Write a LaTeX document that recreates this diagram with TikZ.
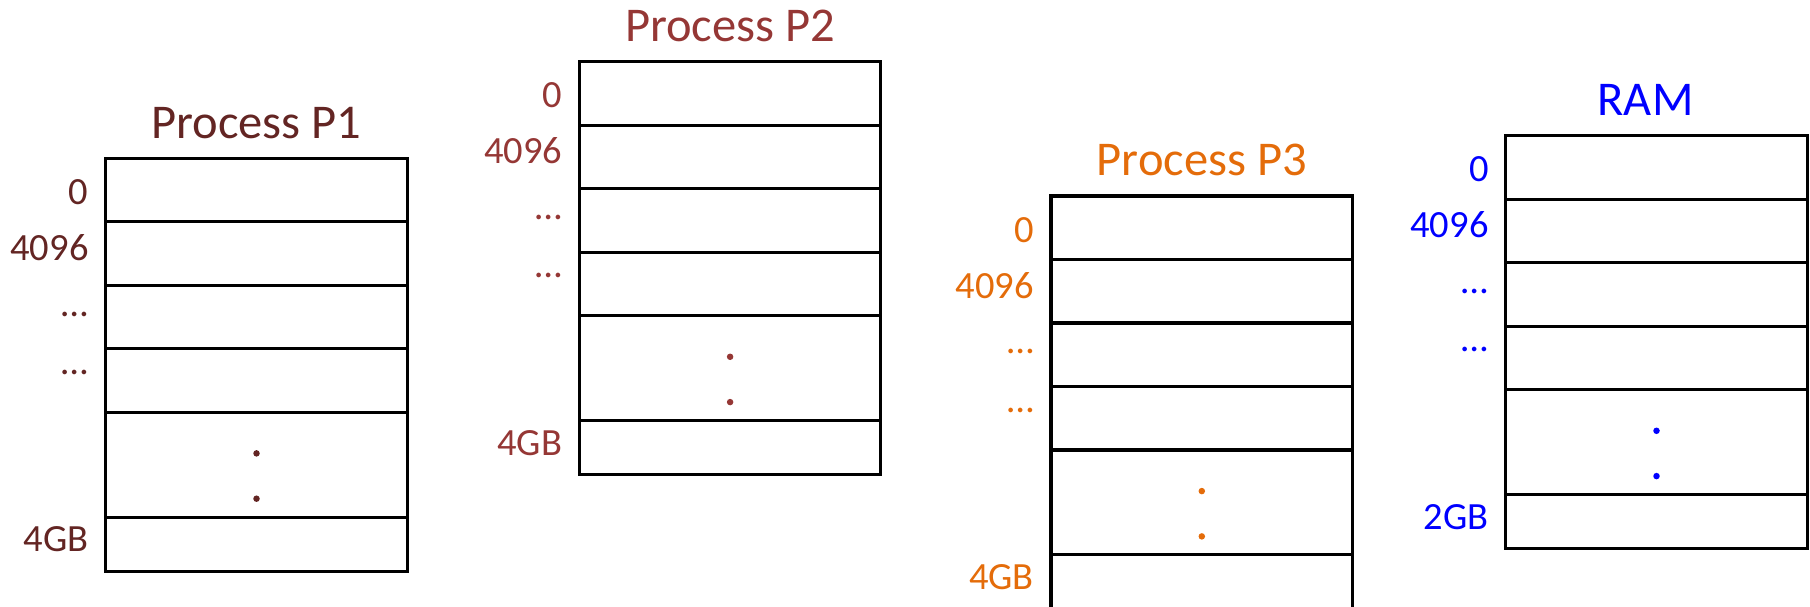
\documentclass[tikz,border=0pt]{standalone}
\usepackage{fontspec}
\setmainfont{Carlito}
\usetikzlibrary{positioning}

\definecolor{pone}{HTML}{632523}
\definecolor{ptwo}{HTML}{953735}
\definecolor{pthree}{HTML}{E46C0A}
\definecolor{ramblue}{HTML}{0000FF}

\begin{document}
\begin{tikzpicture}[
    x=1pt, y=1pt,
    % --- Styles ---
    cell/.style={
        rectangle,
        draw=black,
        line width=3.1pt,
        minimum width=301.6pt,
        minimum height=63.5pt,
        inner sep=0pt,
        outer sep=0pt
    },
    bigcell/.style={cell, minimum height=104.8pt},
    lastcell/.style={cell, minimum height=54.3pt},
    head/.style={
        inner sep=0pt,
        font=\fontsize{48.5}{56}\selectfont
    },
    addr/.style={
        inner sep=0pt,
        font=\fontsize{38.5}{44}\selectfont
    },
    dot/.style={circle, inner sep=0pt, minimum size=6.5pt}
]
\useasboundingbox (0,0) rectangle (1810,607);

% --- Process P1 ---
\node[cell, anchor=north west] (p1a) at (105.7,448.7) {};
\node[cell, below=0pt of p1a] (p1b) {};
\node[cell, below=0pt of p1b] (p1c) {};
\node[cell, below=0pt of p1c] (p1d) {};
\node[bigcell, below=0pt of p1d] (p1e) {};
\node[lastcell, below=0pt of p1e] (p1f) {};
\node[head, text=pone, above=20pt of p1a, anchor=base] (p1t) {Process P1};
\node[addr, text=pone, left=17pt of p1a, yshift=-2pt] (p1l0) {0};
\node[addr, text=pone, left=17pt of p1b, yshift=6pt] (p1l1) {4096};
\node[addr, text=pone, left=17pt of p1c, yshift=3pt] (p1l2) {\dots};
\node[addr, text=pone, left=17pt of p1d, yshift=8pt] (p1l3) {\dots};
\node[addr, text=pone, left=17pt of p1f, yshift=5pt] (p1l4) {4GB};
\node[dot, fill=pone, yshift=11.3pt] (p1d1) at (p1e) {};
\node[dot, fill=pone, yshift=-34pt] (p1d2) at (p1e) {};

% --- Process P2 ---
\node[cell, anchor=north west] (p2a) at (579.3,545.3) {};
\node[cell, below=0pt of p2a] (p2b) {};
\node[cell, below=0pt of p2b] (p2c) {};
\node[cell, below=0pt of p2c] (p2d) {};
\node[bigcell, below=0pt of p2d] (p2e) {};
\node[lastcell, below=0pt of p2e] (p2f) {};
\node[head, text=ptwo, above=20pt of p2a, anchor=base] (p2t) {Process P2};
\node[addr, text=ptwo, left=17pt of p2a, yshift=-2pt] (p2l0) {0};
\node[addr, text=ptwo, left=17pt of p2b, yshift=6pt] (p2l1) {4096};
\node[addr, text=ptwo, left=17pt of p2c, yshift=3pt] (p2l2) {\dots};
\node[addr, text=ptwo, left=17pt of p2d, yshift=8pt] (p2l3) {\dots};
\node[addr, text=ptwo, left=17pt of p2f, yshift=5pt] (p2l4) {4GB};
\node[dot, fill=ptwo, yshift=11.3pt] (p2d1) at (p2e) {};
\node[dot, fill=ptwo, yshift=-34pt] (p2d2) at (p2e) {};

% --- Process P3 ---
\node[cell, anchor=north west] (p3a) at (1051,411) {};
\node[cell, below=0pt of p3a] (p3b) {};
\node[cell, below=0pt of p3b] (p3c) {};
\node[cell, below=0pt of p3c] (p3d) {};
\node[bigcell, below=0pt of p3d] (p3e) {};
\node[lastcell, below=0pt of p3e] (p3f) {};
\node[head, text=pthree, above=20pt of p3a, anchor=base] (p3t) {Process P3};
\node[addr, text=pthree, left=17pt of p3a, yshift=-2pt] (p3l0) {0};
\node[addr, text=pthree, left=17pt of p3b, yshift=6pt] (p3l1) {4096};
\node[addr, text=pthree, left=17pt of p3c, yshift=3pt] (p3l2) {\dots};
\node[addr, text=pthree, left=17pt of p3d, yshift=8pt] (p3l3) {\dots};
\node[addr, text=pthree, left=17pt of p3f, yshift=5pt] (p3l4) {4GB};
\node[dot, fill=pthree, yshift=11.3pt] (p3d1) at (p3e) {};
\node[dot, fill=pthree, yshift=-34pt] (p3d2) at (p3e) {};

% --- RAM ---
\node[cell, anchor=north west] (rama) at (1505.7,471.3) {};
\node[cell, below=0pt of rama] (ramb) {};
\node[cell, below=0pt of ramb] (ramc) {};
\node[cell, below=0pt of ramc] (ramd) {};
\node[bigcell, below=0pt of ramd] (rame) {};
\node[lastcell, below=0pt of rame] (ramf) {};
\node[head, text=ramblue, above=20pt of rama, anchor=base, xshift=-11pt] (ramt) {RAM};
\node[addr, text=ramblue, left=17pt of rama, yshift=-2pt] (raml0) {0};
\node[addr, text=ramblue, left=17pt of ramb, yshift=6pt] (raml1) {4096};
\node[addr, text=ramblue, left=17pt of ramc, yshift=3pt] (raml2) {\dots};
\node[addr, text=ramblue, left=17pt of ramd, yshift=8pt] (raml3) {\dots};
\node[addr, text=ramblue, left=17pt of ramf, yshift=5pt] (raml4) {2GB};
\node[dot, fill=ramblue, yshift=11.3pt] (ramd1) at (rame) {};
\node[dot, fill=ramblue, yshift=-34pt] (ramd2) at (rame) {};

\end{tikzpicture}
\end{document}
